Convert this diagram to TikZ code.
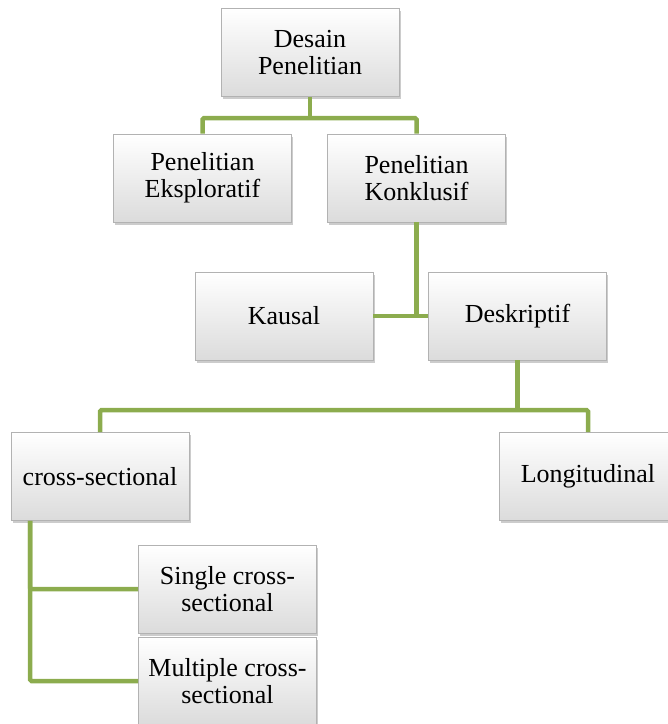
\documentclass[tikz,border=0pt]{standalone}
\usepackage{fontspec}
\setmainfont{Liberation Serif}
\usetikzlibrary{shadows,calc}
\definecolor{lgreen}{RGB}{140,172,78}
\tikzset{
  box/.style={draw=gray!60, line width=0.8pt, top color=white, bottom color=gray!28,
    minimum width=178pt, minimum height=88pt, align=center, inner sep=2pt,
    font=\fontsize{26}{27}\selectfont,
    drop shadow={shadow xshift=1.5pt, shadow yshift=-2.5pt, opacity=0.4}},
  conn/.style={draw=lgreen, line width=4.5pt, rounded corners=1.5pt}
}
\begin{document}
\begin{tikzpicture}[x=1pt,y=-1pt]
\useasboundingbox (0,0) rectangle (668,724);
\begin{scope}
\clip (0,0) rectangle (668,724);
\coordinate (j1) at (310,118);
\coordinate (j3) at (517.5,410);
\node[box] (desain) at (310,52.5) {Desain\\Penelitian};
\node[box] (eksp) at (202.5,178) {Penelitian\\Eksploratif};
\node[box] (konk) at (416.5,178) {Penelitian\\Konklusif};
\node[box] (kausal) at (284,316) {Kausal};
\node[box] (deskr) at (517.5,316) {Deskriptif};
\node[box] (cross) at (100,476.5) {cross-sectional};
\node[box] (longi) at (588,476.5) {Longitudinal};
\node[box] (single) at (227.5,589) {Single cross-\\sectional};
\node[box] (multi) at (227.5,681) {Multiple cross-\\sectional};
\coordinate (j2) at (konk.south |- kausal.east);
\coordinate (c1) at ([xshift=-70pt]cross.south);
\draw[conn] (desain.south) -- (j1);
\draw[conn] (eksp.north) |- (j1) -| (konk.north);
\draw[conn] (konk.south) -- (j2);
\draw[conn] (kausal.east) -- (deskr.west);
\draw[conn] (deskr.south) -- (j3);
\draw[conn] (cross.north) |- (j3) -| (longi.north);
\draw[conn] (c1) |- (single.west);
\draw[conn] (c1) |- (multi.west);
\end{scope}
\end{tikzpicture}
\end{document}
